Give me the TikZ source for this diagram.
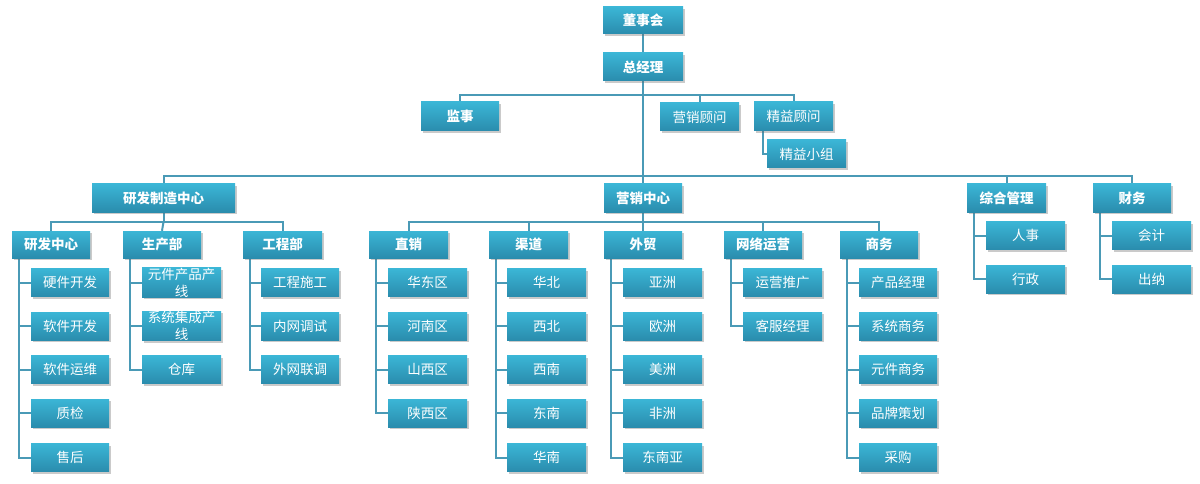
\documentclass[tikz,border=0pt]{standalone}
\usepackage{fontspec}
\setmainfont{Noto Sans CJK SC}
\usetikzlibrary{shadows,backgrounds}
\definecolor{boxtop}{HTML}{3BB6D6}
\definecolor{boxbot}{HTML}{2A8CAD}
\definecolor{linec}{HTML}{4A9AB6}
\tikzset{
  box/.style={rectangle, top color=boxtop, bottom color=boxbot, draw=none,
    text=white, inner sep=0pt, minimum width=79pt, minimum height=28pt,
    font=\fontsize{13.5}{15}\selectfont,
    drop shadow={shadow xshift=2pt, shadow yshift=-2pt, opacity=0.35, fill=black!60}},
  head/.style={box, font=\bfseries\fontsize{13.5}{15}\selectfont},
  wrapbox/.style={box, align=center, font=\fontsize{13.5}{15.5}\selectfont},
  conn/.style={draw=linec, line width=2pt}
}
\begin{document}
\begin{tikzpicture}[x=1pt,y=-1pt]
\useasboundingbox (0,0) rectangle (1200,484);
% level 0/1
\node[head, minimum width=80pt, minimum height=27pt] (dsh) at (643,20.5) {董事会};
\node[head, minimum width=80pt] (zjl) at (643,67) {总经理};
\node[head, minimum width=78pt, minimum height=29pt] (js) at (460,116.5) {监事};
\node[box] (yxgw) at (699.5,117) {营销顾问};
\node[box, minimum height=29pt] (jygw) at (793.5,116.5) {精益顾问};
\node[box] (jyxz) at (806.5,154) {精益小组};
% level 2
\node[head, minimum width=143pt] (yfzz) at (163.5,198) {研发制造中心};
\node[head, minimum width=78pt] (yxzx) at (643,198) {营销中心};
\node[head] (zhgl) at (1006.5,198) {综合管理};
\node[head, minimum width=78pt] (cw) at (1132,198) {财务};
% level 3
\node[head, minimum width=78pt, minimum height=27pt] (yfzx) at (51,244.5) {研发中心};
\node[head, minimum width=78pt, minimum height=27pt] (scb) at (162,244.5) {生产部};
\node[head, minimum height=27pt] (gcb) at (282.5,244.5) {工程部};
\node[head, minimum height=27pt] (zx) at (408.5,244.5) {直销};
\node[head, minimum height=27pt] (qd) at (528.5,244.5) {渠道};
\node[head, minimum width=78pt, minimum height=27pt] (wm) at (643,244.5) {外贸};
\node[head, minimum width=78pt, minimum height=27pt] (wlyy) at (763,244.5) {网络运营};
\node[head, minimum width=78pt, minimum height=27pt] (sw) at (879,244.5) {商务};
% children of 研发中心
\node[box, minimum width=78pt] (a1) at (70,282.5) {硬件开发};
\node[box, minimum width=78pt] (a2) at (70,326) {软件开发};
\node[box, minimum width=78pt] (a3) at (70,369.5) {软件运维};
\node[box, minimum width=78pt] (a4) at (70,413) {质检};
\node[box, minimum width=78pt] (a5) at (70,457.5) {售后};
% children of 生产部
\node[wrapbox] (b1) at (181.5,282.5) {\raisebox{1pt}{\parbox{72pt}{\centering 元件产品产\\[1.5pt]线}}};
\node[wrapbox] (b2) at (181.5,326) {\raisebox{1pt}{\parbox{72pt}{\centering 系统集成产\\[1.5pt]线}}};
\node[box] (b3) at (181.5,369.5) {仓库};
% children of 工程部
\node[box, minimum width=78pt] (c1) at (300,282.5) {工程施工};
\node[box, minimum width=78pt] (c2) at (300,326) {内网调试};
\node[box, minimum width=78pt] (c3) at (300,369.5) {外网联调};
% 直销
\node[box] (d1) at (427.5,282.5) {华东区};
\node[box] (d2) at (427.5,326) {河南区};
\node[box] (d3) at (427.5,369.5) {山西区};
\node[box] (d4) at (427.5,413) {陕西区};
% 渠道
\node[box] (e1) at (546.5,282.5) {华北};
\node[box] (e2) at (546.5,326) {西北};
\node[box] (e3) at (546.5,369.5) {西南};
\node[box] (e4) at (546.5,413) {东南};
\node[box] (e5) at (546.5,457.5) {华南};
% 外贸
\node[box] (f1) at (662.5,282.5) {亚洲};
\node[box] (f2) at (662.5,326) {欧洲};
\node[box] (f3) at (662.5,369.5) {美洲};
\node[box] (f4) at (662.5,413) {非洲};
\node[box] (f5) at (662.5,457.5) {东南亚};
% 网络运营
\node[box] (g1) at (782.5,282.5) {运营推广};
\node[box] (g2) at (782.5,326) {客服经理};
% 商务
\node[box, minimum width=78pt] (h1) at (898,282.5) {产品经理};
\node[box, minimum width=78pt] (h2) at (898,326) {系统商务};
\node[box, minimum width=78pt] (h3) at (898,369.5) {元件商务};
\node[box, minimum width=78pt] (h4) at (898,413) {品牌策划};
\node[box, minimum width=78pt] (h5) at (898,457.5) {采购};
% 综合管理
\node[box] (i1) at (1025.5,235.5) {人事};
\node[box] (i2) at (1025.5,279) {行政};
% 财务
\node[box] (j1) at (1151.5,235.5) {会计};
\node[box] (j2) at (1151.5,279) {出纳};

% connector junctions
\coordinate (bus1) at (643,95);
\coordinate (bus2) at (643,176);
\coordinate (bus3) at (163.5,222);
\coordinate (bus4) at (643,222);
\begin{scope}[on background layer]
\draw[conn] (dsh.south) -- (zjl.north);
\draw[conn] (zjl.south) -- (bus2);
\draw[conn] (js.north) |- (bus1) -| (jygw.north);
\draw[conn] (yxgw.north) -- (yxgw.north |- bus1);
\draw[conn] ([xshift=-30.5pt]jygw.south) |- (jyxz.west);
\draw[conn] (yfzz.north) |- (bus2) -| (cw.north);
\draw[conn] (yxzx.north) -- (bus2);
\draw[conn] (zhgl.north) -- (zhgl.north |- bus2);
\draw[conn] (yfzz.south) -- (bus3);
\draw[conn] (yfzx.north) |- (bus3) -| (gcb.north);
\draw[conn] (scb.north) -- (bus3);
\draw[conn] (yxzx.south) -- (bus4);
\draw[conn] (zx.north) |- (bus4) -| (sw.north);
\draw[conn] (qd.north) -- (qd.north |- bus4);
\draw[conn] (wm.north) -- (bus4);
\draw[conn] (wlyy.north) -- (wlyy.north |- bus4);
\foreach \p/\cs in {yfzx/{a1,a2,a3,a4,a5}, scb/{b1,b2,b3}, gcb/{c1,c2,c3},
  zx/{d1,d2,d3,d4}, qd/{e1,e2,e3,e4,e5}, wm/{f1,f2,f3,f4,f5}, wlyy/{g1,g2},
  sw/{h1,h2,h3,h4,h5}, zhgl/{i1,i2}, cw/{j1,j2}} {
  \foreach \c in \cs {
    \draw[conn] ([xshift=7.5pt]\p.south west) |- (\c.west);
  }
}
\end{scope}
\end{tikzpicture}
\end{document}
